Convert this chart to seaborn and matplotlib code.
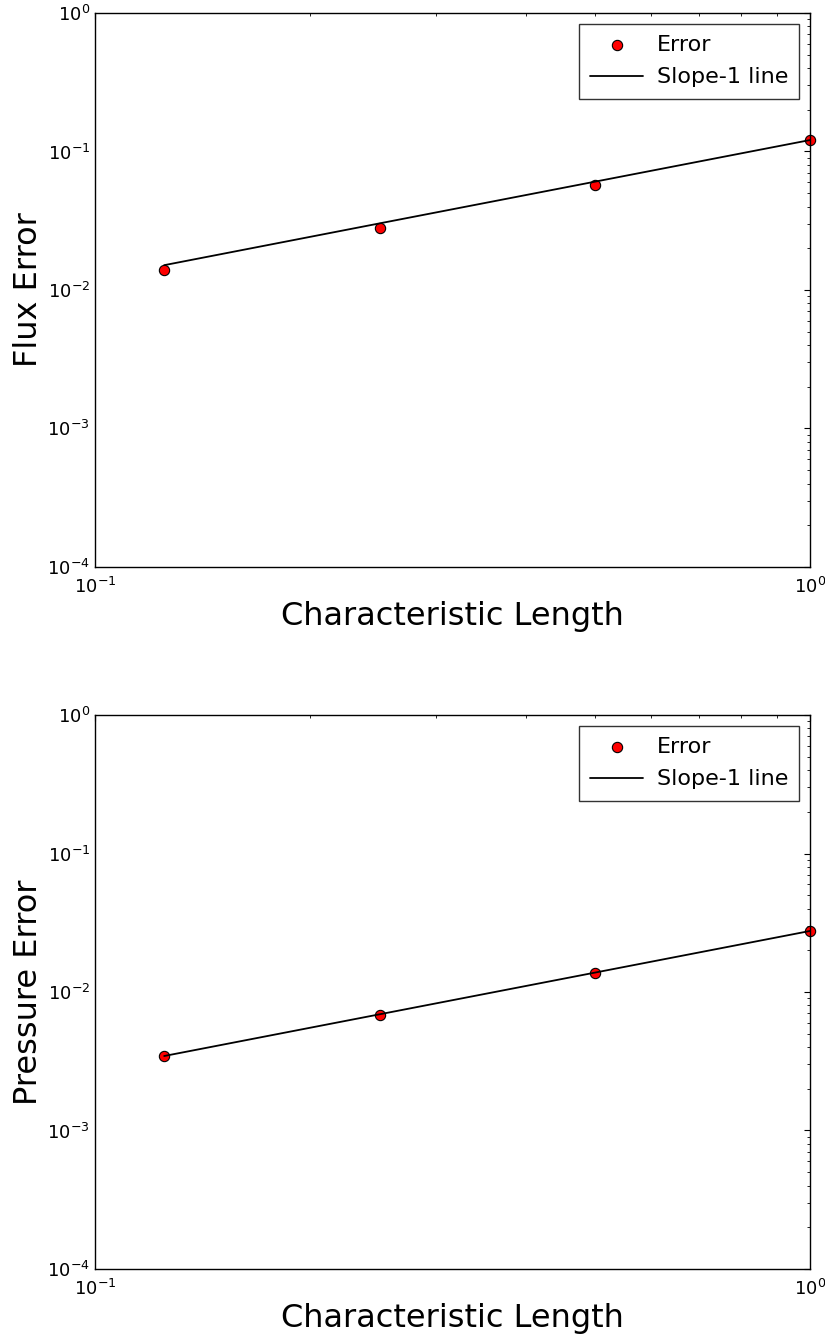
import numpy as np
import pandas as pd
import matplotlib
matplotlib.use("Agg")
import matplotlib.pyplot as plt
from matplotlib.ticker import NullFormatter
import seaborn as sns

# data
char_length = [0.125, 0.25, 0.5, 1.0]
flux_error = [0.0139, 0.028, 0.057, 0.121]
flux_slope = [0.0151, 0.03025, 0.0605, 0.121]
pressure_error = [0.00345, 0.0068, 0.0137, 0.0276]
pressure_slope = [0.00345, 0.0069, 0.0138, 0.0276]

sns.set_style("white")
plt.rcParams['font.family'] = ['DejaVu Sans']
plt.rcParams.update({
    'xtick.direction': 'in', 'ytick.direction': 'in',
    'xtick.top': True, 'ytick.right': True,
    'xtick.major.size': 4.5, 'ytick.major.size': 4.5,
    'xtick.minor.size': 2.2, 'ytick.minor.size': 2.2,
    'xtick.minor.visible': True, 'ytick.minor.visible': True,
    'xtick.color': 'black', 'ytick.color': 'black',
    'axes.edgecolor': 'black', 'axes.linewidth': 1.0,
    'text.color': 'black', 'axes.labelcolor': 'black',
})

fig = plt.figure(figsize=(8.25, 13.39), dpi=100)
ax1 = fig.add_axes([0.115, 0.5766, 0.867, 0.4137])
ax2 = fig.add_axes([0.115, 0.0523, 0.867, 0.4137])

panels = [(ax1, flux_error, flux_slope, 'Flux Error'),
          (ax2, pressure_error, pressure_slope, 'Pressure Error')]

for ax, err, slope, ylabel in panels:
    df = pd.DataFrame({'h': char_length, 'err': err, 'slope': slope})
    sns.scatterplot(data=df, x='h', y='err', ax=ax, color='red', edgecolor='black',
                    linewidth=0.8, s=55, label='Error', zorder=2, clip_on=False)
    sns.lineplot(data=df, x='h', y='slope', ax=ax, color='black', linewidth=1.3,
                 label='Slope-1 line', zorder=3)
    ax.set_xscale('log')
    ax.set_yscale('log')
    ax.set_xlim(0.1, 1.0)
    ax.set_ylim(1e-4, 1.0)
    ax.xaxis.set_minor_formatter(NullFormatter())
    ax.yaxis.set_minor_formatter(NullFormatter())
    ax.set_xlabel('Characteristic Length', fontsize=23, labelpad=3)
    ax.set_ylabel(ylabel, fontsize=23, labelpad=2)
    ax.tick_params(labelsize=13)
    ax.tick_params(axis='x', which='major', pad=7)
    ax.tick_params(which='both', top=True, right=True, direction='in')
    for sp in ax.spines.values():
        sp.set_visible(True)
        sp.set_color('black')
    leg = ax.legend(loc='upper right', fontsize=16, fancybox=False, frameon=True,
                    edgecolor='black', borderaxespad=0.5, handlelength=2.4,
                    handletextpad=0.6, borderpad=0.5, labelspacing=0.55)
    leg.get_frame().set_linewidth(1.0)
    for t in leg.get_texts():
        t.set_color('black')

fig.savefig('out.png', dpi=100)
